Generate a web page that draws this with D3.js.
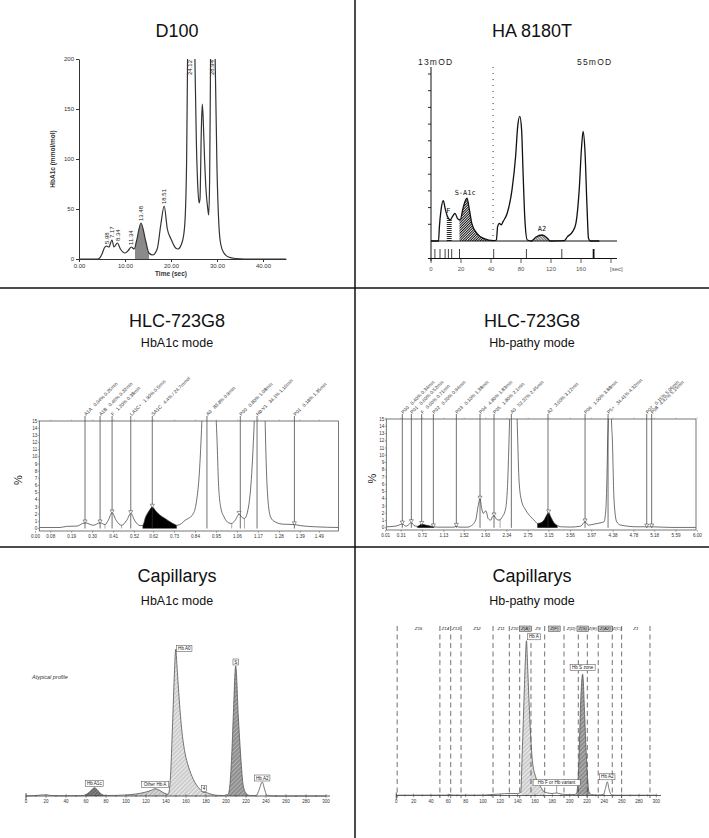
<!DOCTYPE html>
<html><head><meta charset="utf-8">
<script src="https://cdn.jsdelivr.net/npm/d3@7"></script>
<style>body{margin:0;background:#fff}svg{display:block;font-family:"Liberation Sans",Arial,sans-serif}</style>
</head><body><svg id="c" width="709" height="838"></svg>
<script>
// ================= DATA =================
const panelTitles = ["D100", "HA 8180T", "HLC-723G8", "HLC-723G8", "Capillarys", "Capillarys"];
const panelSubtitles = ["", "", "HbA1c mode", "Hb-pathy mode", "HbA1c mode", "Hb-pathy mode"];

// D100 : [time (sec), HbA1c (mmol/mol)]
const d100Trace = [[0,0],[4,0],[4.5,1],[5,5],[5.5,11],[5.98,13],[6.5,12],[7.17,19],[7.6,12],[8.34,16],[9,10],[10,6],[10.8,9],[11.34,12],[12,10],[12.5,18],[13.48,36],[14.5,18],[15.2,6],[16,4],[17,10],[17.8,35],[18.51,53],[19.2,30],[20,20],[21,11],[21.5,10],[22.5,18],[23,35],[23.4,100],[23.6,200],[23.8,280],[24.5,300],[25,260],[25.2,200],[25.5,120],[25.8,75],[26.1,56],[26.3,60],[26.6,130],[26.8,155],[27,140],[27.3,100],[27.6,70],[28,50],[28.2,44],[28.4,80],[28.6,200],[28.8,300],[29.3,300],[29.6,200],[30,90],[30.4,35],[30.8,15],[31.5,6],[32.5,2],[34,0.5],[36,0],[45,0]];
const d100PeakTimes = [5.98, 7.17, 8.34, 11.34, 13.48, 18.51, 24.12, 28.94];
const d100PeakLabels = ["5.98", "7.17", "8.34", "11.34", "13.48", "18.51", "24.12", "28.94"];
const d100Shade = [12.2, 15.2];
const d100XTicks = [0, 10, 20, 30, 40];
const d100YTicks = [0, 50, 100, 150, 200];

// HA 8180T : [axis unit, signal]
const haTrace = [[0,0],[0.25,0],[0.28,0.86],[0.335,1.86],[0.41,2.42],[0.47,1.96],[0.55,1.46],[0.64,1.26],[0.715,1.46],[0.8,1.66],[0.88,1.36],[0.97,1.26],[1.08,2.06],[1.2,2.56],[1.28,1.86],[1.36,1.06],[1.53,0.46],[1.75,0.16],[2.09,0.02],[2.18,0.06],[2.22,0.86],[2.28,1.06],[2.34,0.96],[2.4,1.16],[2.54,1.66],[2.7,3.06],[2.82,5.06],[2.89,6.86],[2.96,7.46],[3.02,6.66],[3.07,4.06],[3.13,1.26],[3.21,0.06],[3.35,0],[3.49,0.22],[3.71,0.36],[3.88,0.16],[3.97,0],[4.44,0.02],[4.55,0.26],[4.72,0.56],[4.83,1.06],[4.94,3.06],[5.02,5.66],[5.07,6.56],[5.13,5.46],[5.2,2.06],[5.25,0.16],[5.31,0],[5.61,0]];
const haTickLabels = ["0", "20", "40", "80", "120", "160", "[sec]"];
const haYTicks = [1,2,3,4,5,6,7,8,9,10];
const haMarks = [0.13, 0.30, 0.47, 0.58, 0.69, 0.95, 2.09, 3.18, 4.36, 5.42];
const haShadeF = [0.525, 0.69];
const haShadeA1c = [0.95, 2.09];
const haShadeA2 = [3.45, 3.93];
const haPeakNames = ["F", "S-A1c", "A2"];
const haPeakPos = [[0.58, 1.66], [1.14, 2.76], [3.7, 0.62]];
const haScaleTexts = ["13mOD", "55mOD"];
const haDotted = 2.07;

// HLC-723G8 HbA1c mode : [min, %]
const hlc1Trace = [[0.02,0.14],[0.129,0.14],[0.164,0.3],[0.216,0.33],[0.26,0.8],[0.304,0.45],[0.339,0.8],[0.365,0.55],[0.382,1.15],[0.402,2.2],[0.423,1.15],[0.452,0.45],[0.479,1.15],[0.5,2.1],[0.522,1.05],[0.549,0.4],[0.563,0.45],[0.578,1.6],[0.596,2.45],[0.613,3.0],[0.631,2.45],[0.654,1.85],[0.68,1.4],[0.706,0.93],[0.732,0.55],[0.741,0.45],[0.767,0.7],[0.785,1.15],[0.802,1.4],[0.829,2.1],[0.846,3.95],[0.86,7.7],[0.869,12.3],[0.874,15.5],[0.89,30],[0.911,40],[0.93,30],[0.948,15.5],[0.953,12.3],[0.96,6.7],[0.972,3.0],[0.99,1.6],[1.013,0.8],[1.03,0.7],[1.048,1.15],[1.069,2.0],[1.082,1.6],[1.097,1.4],[1.118,3.0],[1.135,7.7],[1.144,12.3],[1.149,15.5],[1.165,35],[1.177,40],[1.19,35],[1.205,15.5],[1.21,10],[1.219,4.4],[1.234,1.6],[1.257,0.93],[1.301,0.6],[1.359,0.55],[1.389,0.4],[1.476,0.23],[1.59,0.14]];
const hlc1PeakTimes = [0.26, 0.339, 0.402, 0.5, 0.613, 0.90, 1.075, 1.163, 1.359];
const hlc1PeakNames = ["A1A", "A1B", "F", "LA1C+", "SA1C", "A0", "P00", "Hb-V1", "P01"];
const hlc1PeakInfo = ["0.04% 0.25min", "0.46% 0.32min", "1.20% 0.38min", "1.90% 0.5min", "4.4% / 24.7mmol", "83.8% 0.9min", "0.80% 1.08min", "34.1% 1.16min", "0.18% 1.35min"];
const hlc1Triangles = [0.26, 0.339, 0.402, 0.5, 0.613, 1.069, 1.359];
const hlc1Bounds = [0.365, 0.452, 0.563, 0.741, 1.03, 1.097];
const hlc1Shades = [[0.563, 0.741]];
const hlc1Ticks = [0.00, 0.08, 0.19, 0.30, 0.41, 0.52, 0.62, 0.73, 0.84, 0.95, 1.06, 1.17, 1.28, 1.39, 1.49];

// HLC-723G8 Hb-pathy mode : [min, %]
const hlc2Trace = [[0.024,0.14],[0.203,0.23],[0.299,0.46],[0.331,0.55],[0.395,0.23],[0.459,0.46],[0.504,0.74],[0.555,0.32],[0.619,0.2],[0.703,0.5],[0.78,0.37],[0.876,0.23],[0.94,0.14],[1.004,0.09],[1.324,0.09],[1.369,0.23],[1.42,0.09],[1.58,0.09],[1.644,0.23],[1.741,1.06],[1.785,2.9],[1.824,3.97],[1.856,2.68],[1.888,1.98],[1.914,2.2],[1.933,2.35],[1.952,2.08],[1.978,1.29],[2.029,1.06],[2.061,1.52],[2.093,1.66],[2.138,1.2],[2.189,1.06],[2.253,1.52],[2.317,2.68],[2.362,7.5],[2.381,12.1],[2.394,15.5],[2.43,28],[2.464,32],[2.5,28],[2.535,15.5],[2.548,12.1],[2.573,6.6],[2.618,3.83],[2.701,2.45],[2.797,1.52],[2.894,0.83],[2.926,0.6],[2.99,0.69],[3.054,1.06],[3.105,1.75],[3.143,2.08],[3.182,1.52],[3.246,0.69],[3.31,0.32],[3.374,0.14],[3.566,0.1],[3.758,0.23],[3.842,0.83],[3.906,0.37],[4.015,0.51],[4.143,0.69],[4.206,0.83],[4.245,2.9],[4.264,7.5],[4.277,12.1],[4.29,15.5],[4.31,30],[4.322,32],[4.335,30],[4.348,15.5],[4.367,12.1],[4.399,3.83],[4.45,0.83],[4.527,0.37],[4.847,0.14],[5.027,0.14],[5.123,0.14],[5.488,0.05],[5.97,0.05]];
const hlc2PeakTimes = [0.331, 0.504, 0.703, 0.927, 1.369, 1.824, 2.093, 2.426, 3.13, 3.842, 4.284, 5.027, 5.122];
const hlc2PeakNames = ["P00", "P01", "F", "P02", "P03", "P04", "P05", "A0", "A2", "P06", "P5+", "P07", "P08"];
const hlc2PeakInfo = ["0.40% 0.34min", "0.60% 0.52min", "0.60% 0.71min", "0.20% 0.94min", "0.10% 1.38min", "4.80% 1.83min", "1.80% 2.1min", "52.37% 2.45min", "3.60% 3.12min", "1.00% 3.88min", "34.41% 4.32min", "0.15% 5.06min", "4.47% 5.15min"];
const hlc2Triangles = [0.331, 0.504, 0.703, 0.927, 1.369, 1.824, 2.093, 3.143, 3.842, 5.027, 5.123];
const hlc2Bounds = [0.619, 0.94, 2.21, 2.926, 3.31];
const hlc2Shades = [[0.619, 0.94], [2.926, 3.31]];
const hlc2Ticks = [0.01, 0.31, 0.72, 1.13, 1.52, 1.93, 2.34, 2.75, 3.15, 3.56, 3.97, 4.38, 4.78, 5.18, 5.59, 6.00];
const hlcYTicks = d3.range(0, 16);

// Capillarys HbA1c mode : [position, absorbance]
const cap1Trace = [[0,0],[10,0.5],[15,1],[20,1.2],[25,0.5],[30,0.3],[50,0.3],[57,0.5],[59,1],[63,3.5],[66,6.5],[68.3,8.3],[71,6.5],[74,3],[77,1],[80,0.5],[90,0.6],[100,1],[110,2],[120,4],[126,6],[129,7.3],[133,6],[137,3.5],[140.7,2],[142.3,1.7],[144.5,20],[146.5,70],[148.5,125],[149.7,146.7],[151,130],[152.3,110],[155.7,66.7],[159,43],[162.3,30],[167.3,16.7],[174,6.7],[178,3.5],[180.7,3.3],[186,1.5],[192,0.6],[198,0.5],[202.3,2],[205.7,40],[207.3,80],[209.7,130],[212.3,80],[214.7,40],[217.3,10],[220.7,2],[223,0.6],[228,0.4],[230.7,1],[233,6],[236.3,14],[238.5,7],[240.7,1],[243,0.2],[250,0],[300,0]];
const cap1ShadeRanges = [[59, 79], [100, 142.3], [142.3, 196], [201, 223]];
const cap1Labels = ["Hb A1c", "Other Hb A", "Hb A0", "4", "S", "Hb A2"];
const cap1LabelPos = [68.3, 129, 149.7, 178, 209.7, 236.3];
const cap1Note = "Atypical profile";
const capTicks = d3.range(0, 301, 20);

// Capillarys Hb-pathy mode : [position, absorbance]
const cap2Trace = [[0,0.3],[58,0.4],[62,1],[66,0.4],[100,0.4],[110,1],[120,1.5],[130,2],[140,2],[143.5,3],[145.4,45],[147.3,95],[148.9,135],[150.2,154.7],[151.5,130],[153.1,95],[157,35],[160.8,18.7],[166.6,8.7],[170.4,3.7],[175,2.5],[180,2],[185,2.5],[190,1.5],[195,1],[200,0.8],[205,1],[208,2],[210.5,30],[212.8,95],[215,121.3],[217.4,79],[219,45],[220.4,22],[222.3,3.7],[225,1],[232,0.5],[238.9,1],[241,6],[243.5,13.7],[245.5,6],[248,1],[250,0.3],[300,0.3]];
const cap2ShadeRanges = [[143.5, 172], [207, 224]];
const cap2Labels = ["Hb A", "Hb S zone", "Hb F or Hb variant", "Hb A2"];
const cap2LabelPos = [150.2, 215, 185, 243.5];
const cap2ZoneLines = [1, 50.3, 62.8, 74.7, 111.6, 130.4, 142.4, 155.4, 171.2, 193.5, 210, 220.4, 233, 249.2, 260, 292.7];
const cap2ZoneNames = ["Z15", "Z14", "Z13", "Z12", "Z11", "Z10", "Z(A)", "Z9", "Z(F)", "Z(D)", "Z(S)", "Z(E)", "Z(A2)", "Z(C)", "Z1"];
const cap2ZonesBoxed = ["Z(A)", "Z(F)", "Z(S)", "Z(A2)"];

// ================= DRAWING =================
const svg = d3.select("#c");
svg.append("rect").attr("width", 709).attr("height", 838).attr("fill", "#fff");
const defs = svg.append("defs");
let clipN = 0;
function clipRect(x, y, w, h) {
  const id = "cl" + (clipN++);
  defs.append("clipPath").attr("id", id).append("rect")
    .attr("x", x).attr("y", y).attr("width", Math.max(0, w)).attr("height", Math.max(0, h));
  return `url(#${id})`;
}
function hatch(id, bg, stroke, size, angle, sw) {
  const p = defs.append("pattern").attr("id", id).attr("patternUnits", "userSpaceOnUse")
    .attr("width", size).attr("height", size).attr("patternTransform", `rotate(${angle})`);
  p.append("rect").attr("width", size).attr("height", size).attr("fill", bg);
  p.append("line").attr("x1", 0.5).attr("y1", 0).attr("x2", 0.5).attr("y2", size)
    .attr("stroke", stroke).attr("stroke-width", sw);
}
hatch("haH", "#fff", "#111", 2, 90, 0.9);
hatch("haD", "#fff", "#111", 1.8, 45, 1);
hatch("haX", "#ddd", "#222", 2, -45, 0.6);
hatch("pA0", "#cdcdcd", "#f2f2f2", 3, 45, 0.8);
hatch("pS", "#8e8e8e", "#bcbcbc", 3, 45, 0.8);
hatch("pA1c", "#666", "#9a9a9a", 2.5, 45, 0.7);
hatch("pOther", "#bfbfbf", "#e4e4e4", 3, 45, 0.8);

function valueAt(trace, t) {
  for (let i = 1; i < trace.length; i++) {
    if (trace[i][0] >= t) {
      const a = trace[i - 1], b = trace[i];
      const f = (t - a[0]) / (b[0] - a[0] || 1);
      return a[1] + f * (b[1] - a[1]);
    }
  }
  return trace[trace.length - 1][1];
}

// dividers
svg.append("line").attr("x1", 355).attr("x2", 355).attr("y1", 0).attr("y2", 838).attr("stroke", "#111").attr("stroke-width", 1.5);
[288, 547].forEach(yy => svg.append("line").attr("x1", 0).attr("x2", 709).attr("y1", yy).attr("y2", yy).attr("stroke", "#111").attr("stroke-width", 1.5));

// titles
const colC = [177, 532], titleY = [37, 327, 582], subY = [0, 347, 605];
panelTitles.forEach((t, i) => {
  const c = colC[i % 2], r = Math.floor(i / 2);
  svg.append("text").attr("x", c).attr("y", titleY[r]).attr("text-anchor", "middle")
    .attr("font-size", 18).attr("fill", "#111").text(t);
  if (panelSubtitles[i]) svg.append("text").attr("x", c).attr("y", subY[r]).attr("text-anchor", "middle")
    .attr("font-size", 12.5).attr("fill", "#111").text(panelSubtitles[i]);
});

function styleAxis(g, fs, col) {
  g.attr("font-size", fs).attr("font-family", null);
  g.selectAll("path,line").attr("stroke", col);
  g.selectAll("text").attr("fill", col);
}

// ---------- D100 ----------
{
  const x = d3.scaleLinear().domain([0, 45]).range([79, 286]);
  const y = d3.scaleLinear().domain([0, 200]).range([259, 59]);
  const g = svg.append("g");
  const line = d3.line().x(d => x(d[0])).y(d => y(d[1])).curve(d3.curveMonotoneX);
  const area = d3.area().x(d => x(d[0])).y0(y(0)).y1(d => y(d[1])).curve(d3.curveMonotoneX);
  g.append("path").datum(d100Trace).attr("d", area).attr("fill", "#8a8a8a")
    .attr("clip-path", clipRect(x(d100Shade[0]), 59, x(d100Shade[1]) - x(d100Shade[0]), 200));
  g.append("path").datum(d100Trace).attr("d", line).attr("fill", "none").attr("stroke", "#333")
    .attr("stroke-width", 1.2).attr("clip-path", clipRect(79, 59, 210, 202));
  const ax = g.append("g").attr("transform", `translate(0,${y(0)})`)
    .call(d3.axisBottom(x).tickValues(d100XTicks).tickFormat(d3.format(".2f")).tickSize(3).tickSizeOuter(0).tickPadding(2));
  styleAxis(ax, 6, "#333");
  const ay = g.append("g").attr("transform", `translate(${x(0)},0)`)
    .call(d3.axisLeft(y).tickValues(d100YTicks).tickSize(3).tickSizeOuter(0).tickPadding(2));
  styleAxis(ay, 6, "#333");
  g.append("text").attr("transform", `translate(55,${y(100)}) rotate(-90)`).attr("text-anchor", "middle")
    .attr("font-size", 6.5).attr("font-weight", "bold").attr("fill", "#333").text("HbA1c (mmol/mol)");
  g.append("text").attr("x", x(20)).attr("y", 276).attr("text-anchor", "middle")
    .attr("font-size", 6.5).attr("font-weight", "bold").attr("fill", "#333").text("Time (sec)");
  d100PeakTimes.forEach((t, i) => {
    const v = valueAt(d100Trace, t);
    const clipped = v >= 200;
    g.append("text")
      .attr("transform", `translate(${x(t) + 2.2},${clipped ? y(200) + 1 : y(v) - 2}) rotate(-90)`)
      .attr("text-anchor", clipped ? "end" : "start").attr("font-size", 6).attr("fill", "#222")
      .text(d100PeakLabels[i]);
  });
}

// ---------- HA 8180T ----------
{
  const x = d3.scaleLinear().domain([0, 6]).range([431, 611]);
  const y = d3.scaleLinear().domain([0, 10]).range([241, 74]);
  const g = svg.append("g");
  const line = d3.line().x(d => x(d[0])).y(d => y(d[1])).curve(d3.curveMonotoneX);
  const area = d3.area().x(d => x(d[0])).y0(y(0)).y1(d => y(d[1])).curve(d3.curveMonotoneX);
  [[haShadeF, "url(#haH)"], [haShadeA1c, "url(#haD)"], [haShadeA2, "url(#haX)"]].forEach(([r, f]) => {
    g.append("path").datum(haTrace).attr("d", area).attr("fill", f)
      .attr("clip-path", clipRect(x(r[0]), 60, x(r[1]) - x(r[0]), y(0) - 60));
  });
  g.append("line").attr("x1", x(haDotted)).attr("x2", x(haDotted)).attr("y1", 67).attr("y2", y(0))
    .attr("stroke", "#333").attr("stroke-width", 1).attr("stroke-dasharray", "1,5");
  g.append("line").attr("x1", x(0)).attr("x2", x(0)).attr("y1", 67).attr("y2", 261).attr("stroke", "#111").attr("stroke-width", 1);
  haYTicks.forEach(v => g.append("line").attr("x1", x(0) - 3).attr("x2", x(0)).attr("y1", y(v)).attr("y2", y(v)).attr("stroke", "#111").attr("stroke-width", 0.9));
  g.append("line").attr("x1", x(0)).attr("x2", 617).attr("y1", y(0)).attr("y2", y(0)).attr("stroke", "#111").attr("stroke-width", 1);
  g.append("line").attr("x1", x(0) - 3).attr("x2", 617).attr("y1", 258.5).attr("y2", 258.5).attr("stroke", "#111").attr("stroke-width", 1);
  haMarks.forEach((u, i) => g.append("line").attr("x1", x(u)).attr("x2", x(u)).attr("y1", 249).attr("y2", 258.5)
    .attr("stroke", "#111").attr("stroke-width", i === haMarks.length - 1 ? 1.8 : 0.8));
  haTickLabels.forEach((lab, i) => {
    g.append("line").attr("x1", x(i)).attr("x2", x(i)).attr("y1", 258.5).attr("y2", 263).attr("stroke", "#333").attr("stroke-width", 0.8);
    g.append("text").attr("x", x(i) + (i === 6 ? -1 : 0)).attr("y", 271).attr("text-anchor", i === 6 ? "start" : "middle")
      .attr("font-size", 6).attr("fill", "#555").text(lab);
  });
  g.append("path").datum(haTrace).attr("d", line).attr("fill", "none").attr("stroke", "#111").attr("stroke-width", 1.3);
  haPeakNames.forEach((n, i) => g.append("text").attr("x", x(haPeakPos[i][0])).attr("y", y(haPeakPos[i][1]))
    .attr("text-anchor", "middle").attr("font-size", 7).attr("font-family", "DejaVu Sans Mono, monospace").attr("fill", "#111").text(n));
  g.append("text").attr("x", 418).attr("y", 65).attr("font-size", 8.5).attr("letter-spacing", 1.2).attr("fill", "#222").text(haScaleTexts[0]);
  g.append("text").attr("x", 577).attr("y", 65).attr("font-size", 8.5).attr("letter-spacing", 1.2).attr("fill", "#222").text(haScaleTexts[1]);
}

// ---------- HLC-723G8 ----------
function drawHLC(o) {
  const { x, y, box, trace } = o;
  const g = svg.append("g");
  const line = d3.line().x(d => x(d[0])).y(d => y(d[1])).curve(d3.curveMonotoneX);
  const area = d3.area().x(d => x(d[0])).y0(y(0)).y1(d => y(d[1])).curve(d3.curveMonotoneX);
  const inner = g.append("g").attr("clip-path", clipRect(box.l, box.t, box.r - box.l, box.b - box.t));
  o.shades.forEach(([a, b]) => inner.append("path").datum(trace).attr("d", area).attr("fill", "#000")
    .attr("clip-path", clipRect(x(a), box.t, x(b) - x(a), y(0) - box.t + 0.5)));
  o.peakTimes.forEach(t => g.append("line").attr("x1", x(t)).attr("x2", x(t)).attr("y1", box.t - 5).attr("y2", y(0))
    .attr("stroke", "#333").attr("stroke-width", 0.7));
  o.bounds.forEach(t => g.append("line").attr("x1", x(t)).attr("x2", x(t)).attr("y1", y(0)).attr("y2", y(valueAt(trace, t)))
    .attr("stroke", "#555").attr("stroke-width", 0.5));
  inner.append("path").datum(trace).attr("d", line).attr("fill", "none").attr("stroke", "#333").attr("stroke-width", 0.7);
  g.append("rect").attr("x", box.l).attr("y", box.t).attr("width", box.r - box.l).attr("height", box.b - box.t)
    .attr("fill", "none").attr("stroke", "#555").attr("stroke-width", 0.8);
  hlcYTicks.forEach(v => {
    g.append("line").attr("x1", box.l - 1.5).attr("x2", box.l).attr("y1", y(v)).attr("y2", y(v)).attr("stroke", "#555").attr("stroke-width", 0.5);
    g.append("text").attr("x", box.l - 2).attr("y", y(v)).attr("dy", "0.35em").attr("text-anchor", "end")
      .attr("font-size", 4.6).attr("fill", "#333").text(v);
  });
  o.ticks.forEach(t => {
    g.append("line").attr("x1", x(t)).attr("x2", x(t)).attr("y1", box.b).attr("y2", box.b + 1.8).attr("stroke", "#555").attr("stroke-width", 0.5);
    g.append("line").attr("x1", x(t)).attr("x2", x(t)).attr("y1", box.t).attr("y2", box.t - 1.5).attr("stroke", "#777").attr("stroke-width", 0.4);
    g.append("text").attr("x", x(t)).attr("y", box.b + 7).attr("text-anchor", "middle")
      .attr("font-size", 4.6).attr("fill", "#333").text(d3.format(".2f")(t));
  });
  o.triangles.forEach(t => g.append("path").attr("d", d3.symbol(d3.symbolTriangle, 7)())
    .attr("transform", `translate(${x(t)},${y(valueAt(trace, t)) - 1.6}) rotate(180)`)
    .attr("fill", "#fff").attr("stroke", "#333").attr("stroke-width", 0.5));
  o.peakTimes.forEach((t, i) => {
    const tx = g.append("text").attr("transform", `translate(${x(t) + 1},${box.t - 5}) rotate(-45)`)
      .attr("font-size", 4.8).attr("fill", "#333");
    tx.append("tspan").text(o.names[i]);
    tx.append("tspan").attr("dx", 4).text(o.info[i]);
  });
  g.append("text").attr("transform", `translate(${o.pctX},${(box.t + box.b) / 2 + 4}) rotate(-90)`)
    .attr("text-anchor", "middle").attr("font-size", 11).attr("fill", "#222").text("%");
}
drawHLC({
  x: d3.scaleLinear().domain([0, 1.59]).range([35.5, 338.4]),
  y: d3.scaleLinear().domain([0, 15]).range([528.5, 421]),
  box: { l: 39.3, r: 338.4, t: 421, b: 531 }, trace: hlc1Trace, shades: hlc1Shades,
  peakTimes: hlc1PeakTimes, names: hlc1PeakNames, info: hlc1PeakInfo, triangles: hlc1Triangles,
  bounds: hlc1Bounds, ticks: hlc1Ticks, pctX: 22
});
drawHLC({
  x: d3.scaleLinear().domain([0, 5.97]).range([385.1, 695.8]),
  y: d3.scaleLinear().domain([0, 15]).range([527.8, 419]),
  box: { l: 386.3, r: 696, t: 419, b: 530 }, trace: hlc2Trace, shades: hlc2Shades,
  peakTimes: hlc2PeakTimes, names: hlc2PeakNames, info: hlc2PeakInfo, triangles: hlc2Triangles,
  bounds: hlc2Bounds, ticks: hlc2Ticks, pctX: 376
});

// ---------- Capillarys ----------
function capAxis(g, x, y0, xEnd) {
  g.append("line").attr("x1", x(0)).attr("x2", xEnd).attr("y1", y0).attr("y2", y0).attr("stroke", "#333").attr("stroke-width", 0.8);
  d3.range(0, 306, 10).forEach(u => g.append("line").attr("x1", x(u)).attr("x2", x(u))
    .attr("y1", y0 - (u % 20 === 0 ? 1.8 : 1)).attr("y2", y0 + (u % 20 === 0 ? 1.8 : 1)).attr("stroke", "#333").attr("stroke-width", 0.5));
  capTicks.forEach(u => g.append("text").attr("x", x(u)).attr("y", y0 + 7).attr("text-anchor", "middle")
    .attr("font-size", 4.5).attr("fill", "#333").text(u));
  g.append("line").attr("x1", x(0)).attr("x2", x(0)).attr("y1", y0 - 3).attr("y2", y0 + 4).attr("stroke", "#333").attr("stroke-width", 0.7);
}
function labelBox(g, cx, bottom, text, anchor, fill) {
  const fs = 4.6, w = text.length * 2.45 + 3, h = 6;
  const left = anchor === "start" ? cx : cx - w / 2;
  g.append("rect").attr("x", left).attr("y", bottom - h).attr("width", w).attr("height", h)
    .attr("fill", fill || "#fff").attr("stroke", "#444").attr("stroke-width", 0.5);
  g.append("text").attr("x", left + w / 2).attr("y", bottom - 1.5).attr("text-anchor", "middle")
    .attr("font-size", fs).attr("fill", "#222").text(text);
}
{
  const x = d3.scaleLinear().domain([0, 300]).range([26, 326]);
  const y = d3.scaleLinear().domain([0, 150]).range([796, 646]);
  const g = svg.append("g");
  const line = d3.line().x(d => x(d[0])).y(d => y(d[1])).curve(d3.curveMonotoneX);
  const area = d3.area().x(d => x(d[0])).y0(y(0)).y1(d => y(d[1])).curve(d3.curveMonotoneX);
  const fills = ["url(#pA1c)", "url(#pOther)", "url(#pA0)", "url(#pS)"];
  cap1ShadeRanges.forEach(([a, b], i) => g.append("path").datum(cap1Trace).attr("d", area).attr("fill", fills[i])
    .attr("clip-path", clipRect(x(a), 600, x(b) - x(a), y(0) - 600)));
  capAxis(g, x, y(0), 330);
  g.append("path").datum(cap1Trace).attr("d", line).attr("fill", "none").attr("stroke", "#555").attr("stroke-width", 0.8);
  cap1Labels.forEach((lab, i) => {
    const u = cap1LabelPos[i], v = valueAt(cap1Trace, u);
    const isMain = lab === "Hb A0";
    labelBox(g, x(u) + (isMain ? 1 : 0), y(v) + (isMain ? 2 : -1), lab, isMain ? "start" : "middle");
  });
  g.append("text").attr("x", 32).attr("y", 679).attr("font-size", 5.5).attr("font-style", "italic")
    .attr("fill", "#333").text(cap1Note);
}
{
  const x = d3.scaleLinear().domain([0, 300]).range([396.3, 656.3]);
  const y = d3.scaleLinear().domain([0, 150]).range([795.5, 645.5]);
  const g = svg.append("g");
  const line = d3.line().x(d => x(d[0])).y(d => y(d[1])).curve(d3.curveMonotoneX);
  const area = d3.area().x(d => x(d[0])).y0(y(0)).y1(d => y(d[1])).curve(d3.curveMonotoneX);
  const fills = ["url(#pA0)", "url(#pS)"];
  cap2ShadeRanges.forEach(([a, b], i) => g.append("path").datum(cap2Trace).attr("d", area).attr("fill", fills[i])
    .attr("clip-path", clipRect(x(a), 600, x(b) - x(a), y(0) - 600)));
  cap2ZoneLines.forEach(u => g.append("line").attr("x1", x(u)).attr("x2", x(u)).attr("y1", 626).attr("y2", 798)
    .attr("stroke", "#333").attr("stroke-width", 0.7).attr("stroke-dasharray", "5,3.5"));
  cap2ZoneNames.forEach((n, i) => {
    const cx = x((cap2ZoneLines[i] + cap2ZoneLines[i + 1]) / 2);
    if (cap2ZonesBoxed.includes(n)) {
      const w = n.length * 2.3 + 2.5;
      g.append("rect").attr("x", cx - w / 2).attr("y", 626).attr("width", w).attr("height", 5.5)
        .attr("fill", "#c8c8c8").attr("stroke", "#444").attr("stroke-width", 0.5);
    }
    g.append("text").attr("x", cx).attr("y", 630.3).attr("text-anchor", "middle").attr("font-size", 4.4)
      .attr("font-style", "italic").attr("fill", "#222").text(n);
  });
  capAxis(g, x, y(0), 661);
  g.append("path").datum(cap2Trace).attr("d", line).attr("fill", "none").attr("stroke", "#555").attr("stroke-width", 0.8);
  cap2Labels.forEach((lab, i) => {
    const u = cap2LabelPos[i], v = valueAt(cap2Trace, u);
    if (lab === "Hb A") {
      labelBox(g, x(u) + 1, y(v) - 1, lab, "start");
    } else if (lab.startsWith("Hb F")) {
      g.append("line").attr("x1", x(u)).attr("x2", x(u)).attr("y1", 785.7).attr("y2", y(v))
        .attr("stroke", "#444").attr("stroke-width", 0.5);
      labelBox(g, x(u), 785.7, lab, "middle");
    } else {
      labelBox(g, x(u), y(v) - (lab === "Hb A2" ? 2 : 3.5), lab, "middle");
    }
  });
}
</script></body></html>
